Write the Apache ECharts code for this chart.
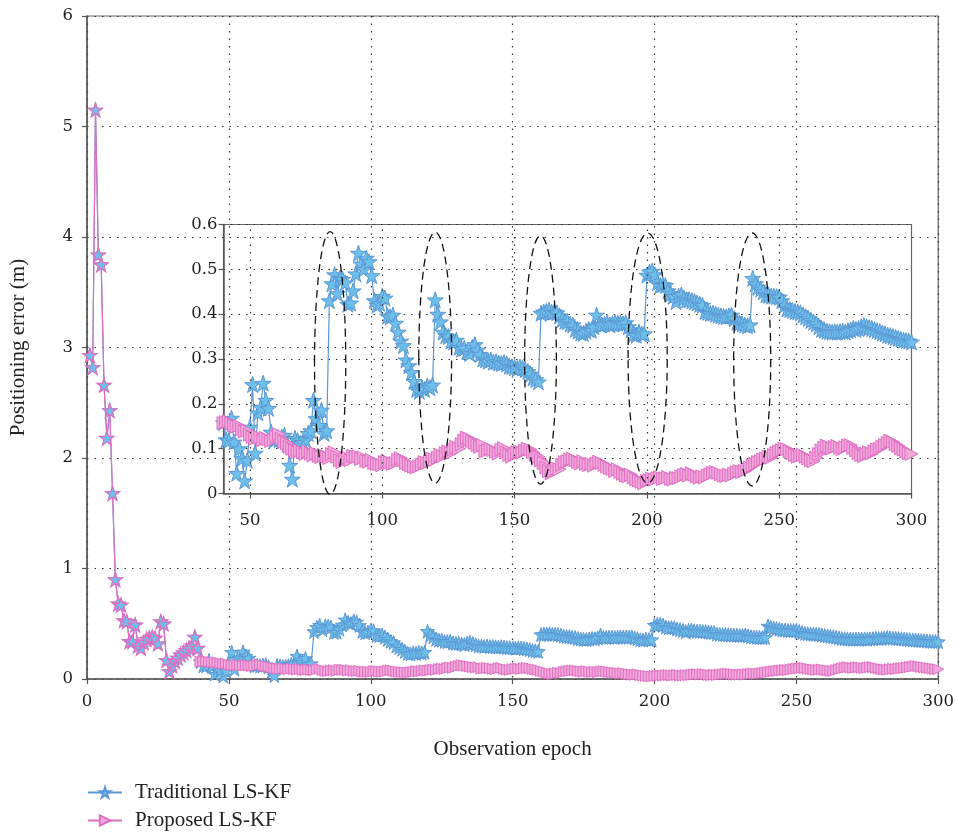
<!DOCTYPE html>
<html><head><meta charset="utf-8">
<script src="https://cdn.jsdelivr.net/npm/echarts/dist/echarts.min.js"></script>
<style>html,body{margin:0;padding:0;background:#fff}#c{width:957px;height:833px}</style>
</head><body><div id="c"></div>
<script>
// ---- data ----
const firstEpoch = 1;
// epochs 1-39: both methods identical
const sharedStart = [2.93,2.82,5.15,3.84,3.75,2.66,2.18,2.43,1.68,0.90,
  0.68,0.67,0.53,0.52,0.34,0.34,0.49,0.30,0.28,0.33,
  0.36,0.37,0.38,0.37,0.32,0.52,0.50,0.17,0.07,0.12,
  0.16,0.19,0.22,0.24,0.26,0.28,0.30,0.38,0.28];
// epochs 40-300
const traditionalRest = [
  0.158,0.12,0.118,0.168,0.115,0.045,0.1,0.078,0.028,0.074,
  0.148,0.243,0.09,0.18,0.192,0.246,0.208,0.19,0.137,0.118,
  0.124,0.12,0.126,0.13,0.11,0.063,0.032,0.123,0.118,0.112,
  0.114,0.12,0.134,0.14,0.208,0.167,0.152,0.186,0.134,0.14,
  0.43,0.468,0.488,0.446,0.48,0.478,0.47,0.422,0.425,0.452,
  0.49,0.536,0.512,0.5,0.525,0.517,0.486,0.43,0.42,0.424,
  0.44,0.436,0.396,0.394,0.398,0.38,0.36,0.34,0.33,0.298,
  0.285,0.27,0.25,0.232,0.228,0.236,0.232,0.24,0.236,0.242,
  0.432,0.4,0.383,0.36,0.352,0.35,0.34,0.338,0.342,0.326,
  0.322,0.324,0.316,0.312,0.326,0.332,0.32,0.31,0.3,0.298,
  0.295,0.298,0.293,0.294,0.291,0.29,0.292,0.289,0.284,0.283,
  0.281,0.279,0.282,0.28,0.276,0.272,0.266,0.258,0.254,0.249,
  0.402,0.405,0.406,0.409,0.404,0.405,0.403,0.396,0.388,0.384,
  0.383,0.378,0.376,0.366,0.362,0.358,0.357,0.362,0.366,0.364,
  0.372,0.398,0.378,0.376,0.378,0.38,0.376,0.379,0.381,0.38,
  0.38,0.378,0.381,0.372,0.365,0.355,0.353,0.36,0.356,0.356,
  0.487,0.494,0.496,0.488,0.47,0.464,0.466,0.464,0.452,0.446,
  0.44,0.428,0.44,0.443,0.436,0.432,0.432,0.43,0.428,0.425,
  0.422,0.42,0.406,0.404,0.402,0.402,0.4,0.398,0.396,0.395,
  0.394,0.396,0.398,0.39,0.382,0.38,0.378,0.376,0.374,0.376,
  0.48,0.468,0.46,0.456,0.45,0.443,0.442,0.44,0.44,0.439,
  0.438,0.43,0.42,0.412,0.41,0.408,0.406,0.405,0.403,0.398,
  0.394,0.39,0.386,0.382,0.378,0.372,0.366,0.364,0.362,0.361,
  0.36,0.361,0.36,0.361,0.362,0.36,0.363,0.365,0.368,0.366,
  0.368,0.372,0.375,0.372,0.37,0.368,0.366,0.363,0.361,0.358,
  0.356,0.353,0.352,0.35,0.348,0.346,0.344,0.342,0.341,0.34,0.338];
const proposedRest = [
  0.157,0.159,0.161,0.156,0.152,0.149,0.151,0.143,0.138,0.14,
  0.131,0.126,0.122,0.128,0.125,0.119,0.124,0.121,0.117,0.12,
  0.126,0.132,0.122,0.116,0.112,0.104,0.1,0.096,0.092,0.096,
  0.092,0.088,0.094,0.089,0.085,0.09,0.084,0.081,0.086,0.082,
  0.079,0.088,0.092,0.082,0.074,0.07,0.076,0.08,0.074,0.084,
  0.082,0.083,0.077,0.08,0.073,0.071,0.075,0.068,0.066,0.065,
  0.063,0.07,0.073,0.069,0.066,0.068,0.075,0.079,0.074,0.068,
  0.065,0.062,0.06,0.058,0.061,0.064,0.07,0.068,0.072,0.078,
  0.075,0.08,0.086,0.083,0.09,0.094,0.09,0.098,0.104,0.1,
  0.11,0.118,0.125,0.122,0.117,0.113,0.108,0.104,0.108,0.094,
  0.096,0.1,0.097,0.093,0.089,0.097,0.101,0.092,0.086,0.082,
  0.088,0.092,0.094,0.091,0.096,0.1,0.098,0.092,0.086,0.082,
  0.074,0.068,0.058,0.05,0.045,0.05,0.056,0.054,0.064,0.07,
  0.072,0.076,0.078,0.074,0.07,0.067,0.072,0.066,0.063,0.066,
  0.062,0.067,0.071,0.068,0.064,0.06,0.057,0.055,0.05,0.054,
  0.048,0.044,0.04,0.038,0.042,0.036,0.032,0.029,0.026,0.023,
  0.028,0.03,0.033,0.031,0.034,0.036,0.032,0.034,0.037,0.033,
  0.031,0.035,0.034,0.038,0.041,0.044,0.04,0.045,0.042,0.038,
  0.035,0.038,0.036,0.04,0.043,0.046,0.048,0.046,0.043,0.04,
  0.039,0.042,0.04,0.044,0.047,0.05,0.048,0.05,0.054,0.058,
  0.062,0.066,0.07,0.072,0.076,0.078,0.082,0.08,0.086,0.09,
  0.094,0.097,0.1,0.099,0.094,0.09,0.086,0.082,0.084,0.086,
  0.082,0.078,0.074,0.072,0.08,0.088,0.096,0.102,0.107,0.104,
  0.1,0.104,0.106,0.102,0.099,0.103,0.107,0.108,0.102,0.096,
  0.09,0.086,0.083,0.088,0.092,0.089,0.094,0.098,0.1,0.104,
  0.108,0.113,0.118,0.115,0.11,0.106,0.101,0.098,0.094,0.09,0.088];
const traditional = sharedStart.concat(traditionalRest);
const proposed = sharedStart.concat(proposedRest);
const epochs = traditional.map((_, i) => firstEpoch + i);

const insetStart = 40;
const insetTicksX = [50,100,150,200,250,300];
const insetGridX = [50,100,150,200,250];
// dashed ellipses: centre epoch, centre value, half-width (epochs), half-height (m)
const ellipseX  = [80.3,120,159.8,200.3,239.8];
const ellipseY  = [0.291,0.303,0.298,0.302,0.299];
const ellipseRx = [5.9,6.2,6.0,7.4,7.0];
const ellipseRy = [0.293,0.28,0.277,0.279,0.282];

// ---- chart ----
const STAR = 'path://M50,0 L61.8,35.4 L99,35.4 L69,57.3 L80.9,92.7 L50,70.8 L19.1,92.7 L31,57.3 L1,35.4 L38.2,35.4 Z';
const SERIF = 'Liberation Serif';
const NUM = 'DejaVu Serif';
const BLUE = '#5b97d4', BLUEFILL = '#6cc0ea', PINK = '#e06fc2', PINKFILL = '#f2a9dc';
const gridLine = {show:true, lineStyle:{type:[1.5,6], color:'#333', width:1.2}};
const axisLine = {show:true, onZero:false, lineStyle:{color:'#555', width:1.5}};
const axisTick = {show:true, inside:false, length:5, lineStyle:{color:'#555', width:1.2}};

const pairs = a => a.map((v, i) => [epochs[i], v]);
const insetPairs = a => pairs(a).filter(p => p[0] >= insetStart);
// while both methods coincide (shared start), the proposed markers are drawn as pink-edged stars
const proposedMain = pairs(proposed).map((p, i) => i < sharedStart.length
  ? {value:p, symbol:STAR, symbolRotate:0, symbolSize:14, itemStyle:{color:BLUEFILL, borderColor:PINK, borderWidth:1.2}}
  : {value:p});

const chart = echarts.init(document.getElementById('c'), null, {renderer:'canvas'});
chart.setOption({
  animation:false,
  backgroundColor:'#fff',
  grid:[
    {left:87, top:16, width:853, height:663, show:true, borderColor:'#666', borderWidth:1.2, backgroundColor:'transparent'},
    {left:223.5, top:224.5, width:688, height:269, show:true, borderColor:'#666', borderWidth:1.2, backgroundColor:'transparent'}
  ],
  xAxis:[
    {type:'value', gridIndex:0, min:0, max:300, interval:50,
     name:'Observation epoch', nameLocation:'middle', nameGap:60,
     nameTextStyle:{fontFamily:SERIF, fontSize:21, color:'#222'},
     axisLine, axisTick, splitLine:gridLine,
     axisLabel:{fontFamily:NUM, fontSize:16.5, color:'#222', margin:14}},
    {type:'value', gridIndex:1, min:insetStart, max:300,
     axisLine, axisTick:Object.assign({customValues:insetTicksX}, axisTick), splitLine:{show:false},
     axisLabel:{customValues:insetTicksX, fontFamily:NUM, fontSize:16.5, color:'#222', margin:19}}
  ],
  yAxis:[
    {type:'value', gridIndex:0, min:0, max:6, interval:1,
     name:'Positioning error (m)', nameLocation:'middle', nameGap:58, nameRotate:90,
     nameTextStyle:{fontFamily:SERIF, fontSize:21, color:'#222'},
     axisLine, axisTick, splitLine:gridLine,
     axisLabel:{fontFamily:NUM, fontSize:16.5, color:'#222', margin:14}},
    {type:'value', gridIndex:1, min:0, max:0.6, interval:0.1,
     axisLine, axisTick, splitLine:gridLine,
     axisLabel:{fontFamily:NUM, fontSize:16.5, color:'#222', margin:6}}
  ],
  legend:{left:87, top:782, orient:'vertical', padding:0, itemGap:7, itemWidth:34, itemHeight:13,
    textStyle:{fontFamily:SERIF, fontSize:21, color:'#222', padding:[0,0,0,8]},
    data:['Traditional LS-KF','Proposed LS-KF']},
  series:[
    {name:'Traditional LS-KF', type:'line', xAxisIndex:0, yAxisIndex:0, data:pairs(traditional),
     symbol:STAR, symbolSize:14, showSymbol:true, z:3,
     lineStyle:{color:BLUE, width:1.2}, itemStyle:{color:BLUEFILL, borderColor:BLUE, borderWidth:1}},
    {name:'Proposed LS-KF', type:'line', xAxisIndex:0, yAxisIndex:0, data:proposedMain,
     symbol:'triangle', symbolRotate:-90, symbolSize:[11,11], showSymbol:true, z:4,
     lineStyle:{color:PINK, width:1.2}, itemStyle:{color:PINKFILL, borderColor:PINK, borderWidth:1}},
    {name:'Traditional LS-KF', type:'line', xAxisIndex:1, yAxisIndex:1, data:insetPairs(traditional),
     symbol:STAR, symbolSize:16, showSymbol:true, z:3,
     lineStyle:{color:BLUE, width:1.2}, itemStyle:{color:BLUEFILL, borderColor:BLUE, borderWidth:1}},
    {name:'Proposed LS-KF', type:'line', xAxisIndex:1, yAxisIndex:1, data:insetPairs(proposed),
     symbol:'triangle', symbolRotate:-90, symbolSize:[13,13], showSymbol:true, z:4,
     lineStyle:{color:PINK, width:1.2}, itemStyle:{color:PINKFILL, borderColor:PINK, borderWidth:1}},
    {type:'line', xAxisIndex:1, yAxisIndex:1, data:[], z:2, silent:true,
     markLine:{silent:true, symbol:'none', label:{show:false}, animation:false,
       lineStyle:{type:[1.5,6], color:'#333', width:1.2}, emphasis:{disabled:true},
       data:insetGridX.map(v => ({xAxis:v}))}},
    {type:'custom', xAxisIndex:1, yAxisIndex:1, clip:false, silent:true, z:10,
     data:ellipseX.map((x, i) => [x, ellipseY[i], ellipseRx[i], ellipseRy[i]]),
     encode:{x:0, y:1},
     renderItem:(params, api) => {
       const c = api.coord([api.value(0), api.value(1)]);
       const s = api.size([api.value(2), api.value(3)]);
       return {type:'ellipse', shape:{cx:c[0], cy:c[1], rx:s[0], ry:s[1]},
         style:{fill:'none', stroke:'#111', lineWidth:1.3, lineDash:[8,5]}};
     }}
  ]
});
</script></body></html>
